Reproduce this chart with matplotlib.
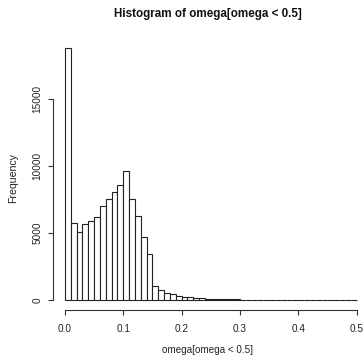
import matplotlib
matplotlib.use("Agg")
import matplotlib.pyplot as plt
import numpy as np

plt.rcParams['font.family'] = ['Liberation Sans', 'DejaVu Sans']

bin_edges = [round(i * 0.01, 2) for i in range(51)]
counts = [18800, 5720, 5100, 5670, 5890, 6170, 7010, 7510, 8030, 8580,
          9620, 7510, 6270, 4680, 3430, 1060, 750, 550, 420, 320,
          250, 190, 150, 120, 95, 75, 60, 50, 42, 36,
          30, 26, 22, 19, 16, 14, 12, 10, 9, 8,
          7, 6, 5, 5, 4, 4, 3, 3, 2, 2]
xticks = [0.0, 0.1, 0.2, 0.3, 0.4, 0.5]
xticklabels = ["0.0", "0.1", "0.2", "0.3", "0.4", "0.5"]
yticks = [0, 5000, 10000, 15000]
yticklabels = ["0", "5000", "10000", "15000"]
title = "Histogram of omega[omega < 0.5]"
xlabel = "omega[omega < 0.5]"
ylabel = "Frequency"

W, H = 364, 356
fig = plt.figure(figsize=(W / 100, H / 100), dpi=100)
left, right, top, bottom = 53.3, 368.3, 38, 310
ax = fig.add_axes([left / W, (H - bottom) / H, (right - left) / W, (bottom - top) / H])

lefts = np.array(bin_edges[:-1])
widths = np.diff(bin_edges)
ax.bar(lefts, counts, width=widths, align='edge', facecolor='white',
       edgecolor='#222222', linewidth=0.8)

ymax = max(counts)
ax.set_xlim(-0.02, 0.52)
ax.set_ylim(-0.04 * ymax, 1.04 * ymax)

for s in ['top', 'right']:
    ax.spines[s].set_visible(False)
ax.spines['left'].set_bounds(0, 15000)
ax.spines['bottom'].set_bounds(0, 0.5)
for s in ['left', 'bottom']:
    ax.spines[s].set_color('#333333')
    ax.spines[s].set_linewidth(0.8)

ax.set_xticks(xticks)
ax.set_xticklabels(xticklabels)
ax.set_yticks(yticks)
ax.set_yticklabels(yticklabels, rotation=90, va='center')
ax.tick_params(axis='both', direction='out', length=3.6, width=0.8,
               color='#333333', labelsize=7.2, labelcolor='#222222')
ax.tick_params(axis='x', pad=6.4)
ax.tick_params(axis='y', pad=4.3)

cx = 208
fig.text(cx / W, 1 - 14 / H, title, ha='center', va='center',
         fontsize=8.4, fontweight='bold', color='#111111')
fig.text(cx / W, 1 - 350 / H, xlabel, ha='center', va='center',
         fontsize=7.1, color='#222222')
fig.text(13 / W, 1 - 178 / H, ylabel, ha='center', va='center', rotation=90,
         fontsize=7.6, color='#222222')

fig.savefig("out.png", dpi=100)
